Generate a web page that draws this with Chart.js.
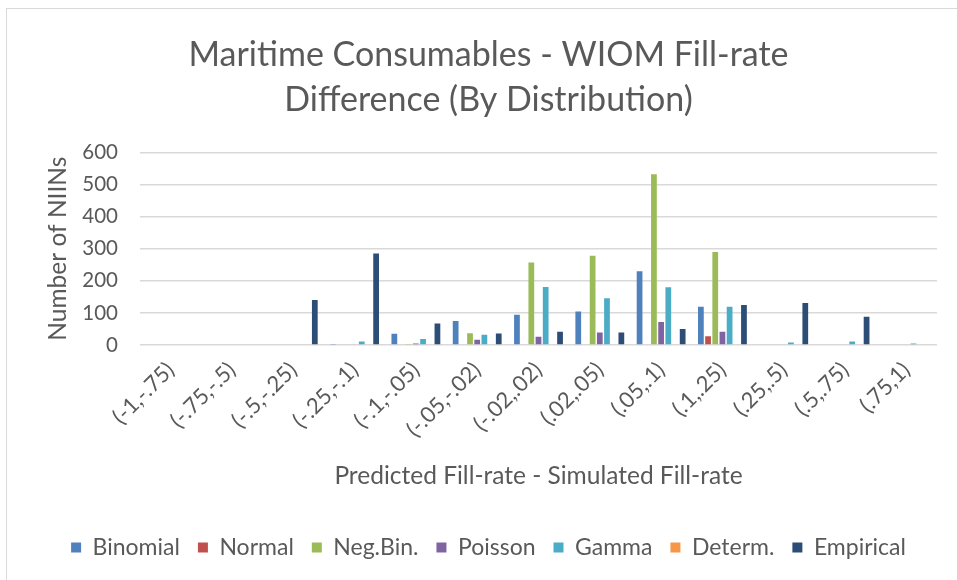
<!DOCTYPE html>
<html>
<head>
<meta charset="utf-8">
<title>Maritime Consumables - WIOM Fill-rate Difference</title>
<script src="https://cdn.jsdelivr.net/npm/chart.js@4.4.1/dist/chart.umd.min.js"></script>
<style>
  html, body { margin: 0; padding: 0; background: #ffffff; overflow: hidden; }
  #frame {
    position: absolute; left: 6px; top: 8px; width: 1000px; height: 700px;
    border-left: 1.5px solid #d9d9d9; border-top: 1.5px solid #d9d9d9;
  }
  #wrap { position: absolute; left: 0; top: 0; width: 957px; height: 580px; }
</style>
</head>
<body>
<div id="frame"></div>
<div id="wrap"><canvas id="fillChart" width="957" height="580"></canvas></div>
<script>
// Fill-rate difference buckets
const categories = ['(-1,-.75)', '(-.75,-.5)', '(-.5,-.25)', '(-.25,-.1)', '(-.1,-.05)', '(-.05,-.02)',
    '(-.02,.02)', '(.02,.05)', '(.05,.1)', '(.1,.25)', '(.25,.5)', '(.5,.75)', '(.75,1)'];

// Number of NIINs per distribution
const binomial  = [0, 0, 0,   3, 35, 75,  94, 104, 230, 119,   0,  0, 0];
const normal    = [0, 0, 0,   0,  2,  0,   0,   0,   2,  27,   0,  0, 0];
const negBin    = [0, 0, 0,   0,  3, 37, 257, 278, 532, 290,   0,  0, 0];
const poisson   = [0, 0, 0,   0,  5, 16,  26,  39,  72,  41,   0,  0, 0];
const gamma     = [0, 0, 0,  11, 19, 32, 181, 146, 180, 119,   8, 11, 5];
const determ    = [0, 0, 0,   0,  0,  0,   0,   0,   0,   0,   0,  0, 0];
const empirical = [0, 0, 140, 285, 67, 36, 41,  39,  50, 125, 131, 88, 0];

const seriesNames = ['Binomial', 'Normal', 'Neg.Bin.', 'Poisson', 'Gamma', 'Determ.', 'Empirical'];
const seriesData = [binomial, normal, negBin, poisson, gamma, determ, empirical];
const seriesColors = ['#4F81BD', '#C0504D', '#9BBB59', '#8064A2', '#4BACC6', '#F79646', '#2C4D75'];

const yTicks = [0, 100, 200, 300, 400, 500, 600];

const textColor = '#595959';
const fontFamily = 'Lato, Carlito, Calibri, sans-serif';

Chart.defaults.font.family = fontFamily;
Chart.defaults.color = textColor;

const ctx = document.getElementById('fillChart').getContext('2d');

new Chart(ctx, {
    type: 'bar',
    data: {
        labels: categories,
        datasets: seriesNames.map((name, i) => ({
            label: name,
            data: seriesData[i],
            backgroundColor: seriesColors[i],
            borderWidth: 0,
            categoryPercentage: 0.82,
            barPercentage: 0.8
        }))
    },
    options: {
        responsive: false,
        animation: false,
        layout: {
            padding: { left: 40, right: 20, top: 20, bottom: 11 }
        },
        plugins: {
            title: {
                display: true,
                text: ['Maritime Consumables - WIOM Fill-rate', 'Difference (By Distribution)'],
                color: textColor,
                font: { size: 34, weight: 'normal', lineHeight: 1.33 },
                padding: { top: 12, bottom: 30 }
            },
            legend: {
                position: 'bottom',
                labels: {
                    color: textColor,
                    font: { size: 23 },
                    boxWidth: 10,
                    boxHeight: 10,
                    padding: 18
                }
            },
            tooltip: { enabled: false }
        },
        scales: {
            x: {
                grid: { display: false },
                border: { display: false },
                ticks: {
                    color: textColor,
                    font: { size: 22 },
                    autoSkip: false,
                    minRotation: 45,
                    maxRotation: 45,
                    padding: 4
                },
                title: {
                    display: true,
                    text: 'Predicted Fill-rate - Simulated Fill-rate',
                    color: textColor,
                    font: { size: 24.5 },
                    padding: { top: 0, bottom: 27 }
                },
                afterFit: (scale) => { scale.height = 173; }
            },
            y: {
                min: 0,
                max: 600,
                afterBuildTicks: (scale) => { scale.ticks = yTicks.map(v => ({ value: v })); },
                grid: { color: '#d9d9d9', lineWidth: 1.5, drawTicks: false },
                border: { display: false },
                ticks: {
                    color: textColor,
                    font: { size: 20.5 },
                    padding: 22
                },
                title: {
                    display: true,
                    text: 'Number of NIINs',
                    color: textColor,
                    font: { size: 24.5 },
                    padding: { top: 3.5, bottom: 0 }
                },
                afterFit: (scale) => { scale.width = 100; }
            }
        }
    }
});
</script>
</body>
</html>
